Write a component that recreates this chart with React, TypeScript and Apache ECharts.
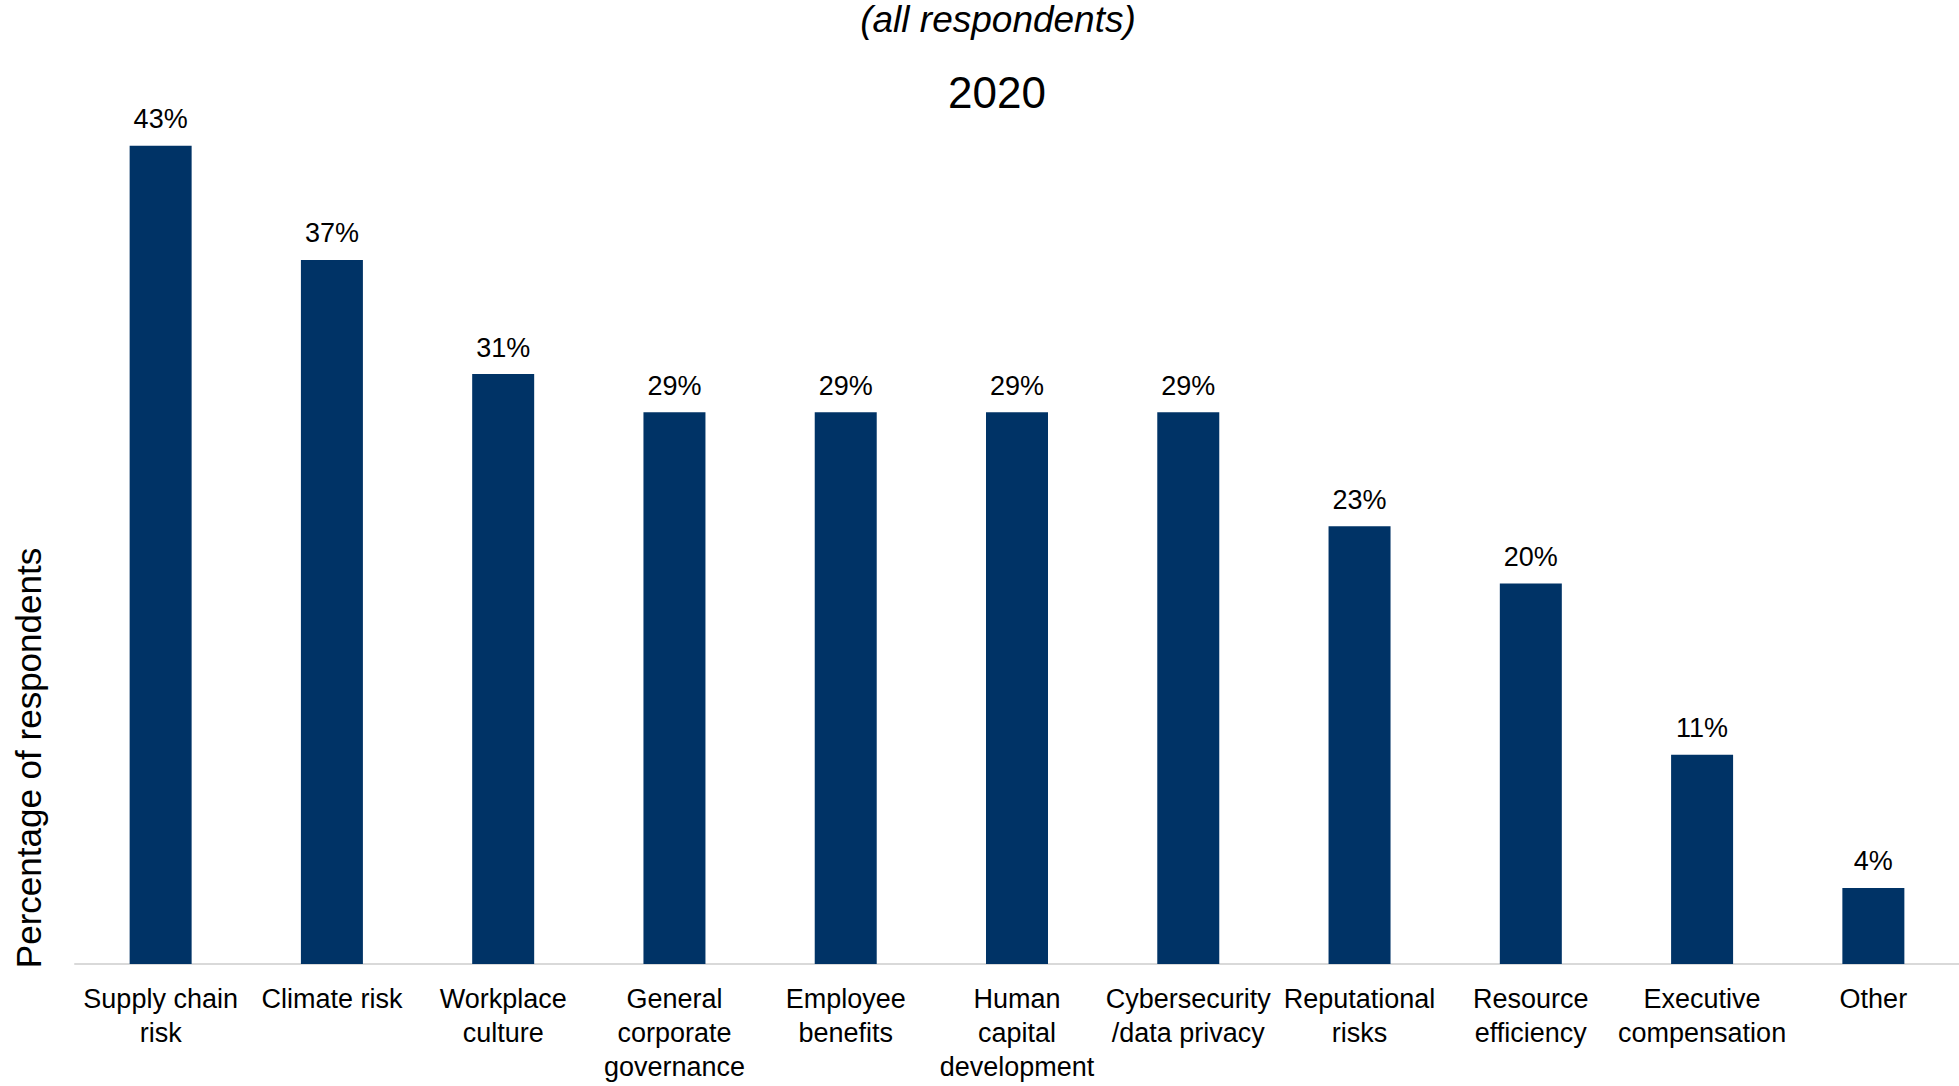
import React, { useEffect, useRef } from "react";
import * as echarts from "echarts";

const categories = [
  "Supply chain\nrisk",
  "Climate risk",
  "Workplace\nculture",
  "General\ncorporate\ngovernance",
  "Employee\nbenefits",
  "Human\ncapital\ndevelopment",
  "Cybersecurity\n/data privacy",
  "Reputational\nrisks",
  "Resource\nefficiency",
  "Executive\ncompensation",
  "Other",
];
const values = [43, 37, 31, 29, 29, 29, 29, 23, 20, 11, 4];
const titleText = "2020";
const subtitleText = "(all respondents)";
const yAxisTitle = "Percentage of respondents";

const FONT = "'Liberation Sans', Arial, Helvetica, sans-serif";

export default function App() {
  const ref = useRef<HTMLDivElement>(null);
  useEffect(() => {
    if (!ref.current) return;
    const chart = echarts.init(ref.current, null, { renderer: "svg" });
    chart.setOption({
      animation: false,
      backgroundColor: "#ffffff",
      textStyle: { fontFamily: FONT },
      grid: { left: 75, right: 0, top: 12.5, bottom: 122, containLabel: false },
      xAxis: {
        type: "category",
        data: categories,
        axisLine: { show: true, lineStyle: { color: "#d9d9d9", width: 2 } },
        axisTick: { show: false },
        axisLabel: {
          interval: 0,
          color: "#000000",
          fontSize: 27,
          lineHeight: 34,
          margin: 18,
          fontFamily: FONT,
        },
      },
      yAxis: {
        type: "value",
        min: 0,
        max: 50,
        show: false,
        splitLine: { show: false },
      },
      series: [
        {
          type: "bar",
          data: values,
          barWidth: 62,
          itemStyle: { color: "#003366" },
          label: {
            show: true,
            position: "top",
            distance: 13,
            formatter: "{c}%",
            color: "#000000",
            fontSize: 27,
            fontFamily: FONT,
          },
        },
      ],
      graphic: [
        {
          type: "text",
          x: 998,
          y: 19.5,
          style: {
            text: subtitleText,
            font: `italic 37px ${FONT}`,
            fill: "#000000",
            align: "center",
            verticalAlign: "middle",
          },
        },
        {
          type: "text",
          x: 997,
          y: 92,
          style: {
            text: titleText,
            font: `44px ${FONT}`,
            fill: "#000000",
            align: "center",
            verticalAlign: "middle",
          },
        },
        {
          type: "text",
          x: 28,
          y: 758,
          rotation: Math.PI / 2,
          style: {
            text: yAxisTitle,
            font: `35px ${FONT}`,
            fill: "#000000",
            align: "center",
            verticalAlign: "middle",
          },
        },
      ],
    });
    return () => chart.dispose();
  }, []);
  return (
    <div
      ref={ref}
      style={{ position: "fixed", left: 0, top: 0, width: 1959, height: 1086 }}
    />
  );
}
